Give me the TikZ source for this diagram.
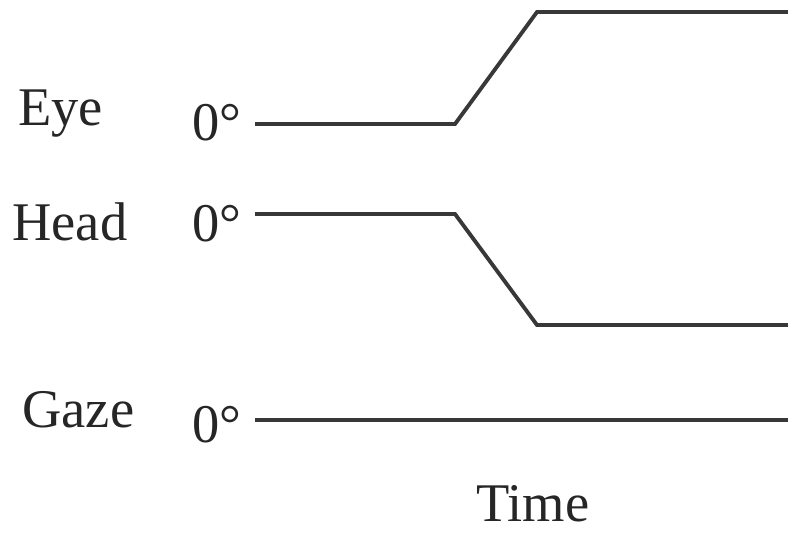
\documentclass[tikz,border=0pt]{standalone}
\usepackage{fontspec}
\setmainfont{Liberation Serif}

\begin{document}
\begin{tikzpicture}[x=0.02cm, y=-0.02cm,
    % Define the style for the traces
    trace/.style={line width=2.2pt, color=black!78, line join=miter},
    % Define the style for the labels
    lbl/.style={font=\fontsize{31}{36}\selectfont, inner sep=0pt, anchor=base west, color=black!85}
]
\useasboundingbox (0,0) rectangle (788,532);

% Define the corner points of the traces
\coordinate (E1) at (255,124);
\coordinate (E2) at (455,124);
\coordinate (E3) at (537,12);
\coordinate (E4) at (788,12);
\coordinate (H1) at (255,214);
\coordinate (H2) at (455,214);
\coordinate (H3) at (537,325);
\coordinate (H4) at (788,325);
\coordinate (G1) at (255,420);
\coordinate (G2) at (788,420);

% Draw the traces
\draw[trace] (E1) -- (E2) -- (E3) -- (E4);
\draw[trace] (H1) -- (H2) -- (H3) -- (H4);
\draw[trace] (G1) -- (G2);

% Add the row labels
\node[lbl] (eye) at (18,125) {Eye};
\node[lbl] (head) at (12,240) {Head};
\node[lbl] (gaze) at (22,427) {Gaze};

% Add the zero labels
\node[lbl] (eyezero) at (192,140) {0°};
\node[lbl] (headzero) at (192,241) {0°};
\node[lbl] (gazezero) at (192,442) {0°};

% Add the axis label
\node[lbl] (time) at (476,521) {Time};

\end{tikzpicture}
\end{document}
